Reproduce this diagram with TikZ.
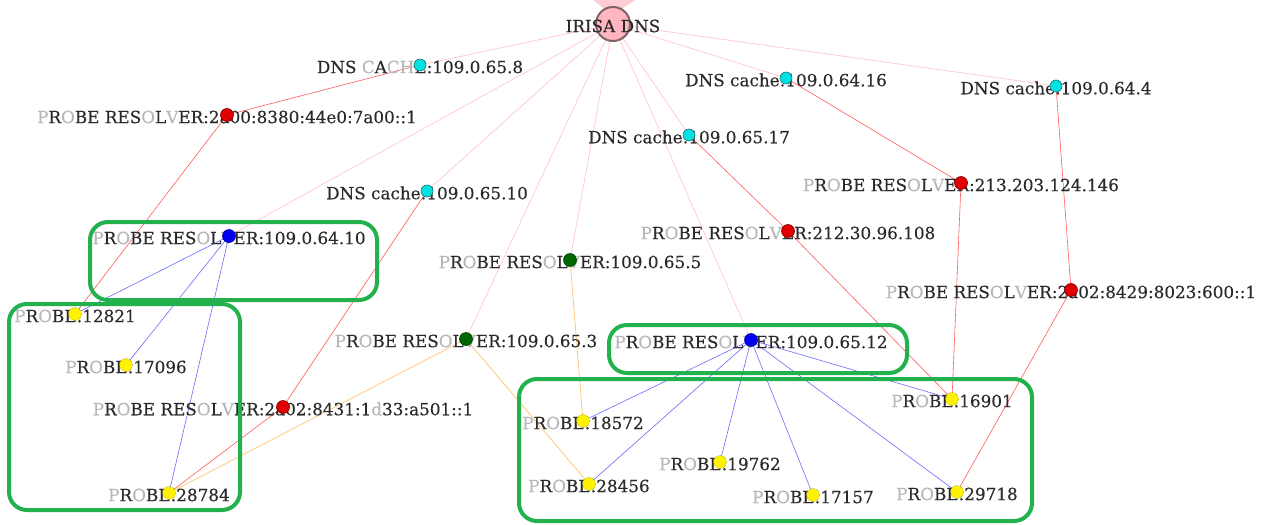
\documentclass[tikz,border=0pt]{standalone}
\usepackage{fontspec}
\setmainfont{DejaVu Serif}[FakeBold=0.3]
\definecolor{txtc}{HTML}{2A2A2A}
\definecolor{lgray}{HTML}{B8B8B8}
\definecolor{boxg}{HTML}{22B14C}
\definecolor{pinke}{HTML}{FFC6D0}
\definecolor{rede}{HTML}{FF5A5A}
\definecolor{bluee}{HTML}{6A6AFF}
\definecolor{orangee}{HTML}{FFC97E}
\definecolor{cyanf}{HTML}{00E2E2}
\definecolor{cyand}{HTML}{207070}
\definecolor{pinkf}{HTML}{FFB6C1}
\definecolor{pinkd}{HTML}{806464}
\definecolor{redf}{HTML}{E00000}
\definecolor{yellowd}{HTML}{9A9A20}
\newcommand\gl[1]{\textcolor{lgray}{#1}}
\newcommand\PRx{\gl{P}R\gl{O}BE RES\gl{O}L\gl{V}ER}
\newcommand\PBx{\gl{P}R\gl{O}BE}
\pgfdeclarelayer{bg}
\pgfsetlayers{bg,main}
\begin{document}
\begin{tikzpicture}[x=1pt,y=-1pt,
  lbl/.style={font=\fontsize{16.8}{19}\selectfont, text=txtc, inner sep=0pt, yshift=-2pt},
  dot/.style={circle, inner sep=0pt, minimum size=13pt, line width=0.6pt},
  reddot/.style={dot, fill=redf, draw=red!50!black},
  bluedot/.style={dot, fill=blue!95!black, draw=blue!60!black},
  greendot/.style={dot, fill=green!40!black, draw=green!25!black},
  cyandot/.style={dot, minimum size=12pt, fill=cyanf, draw=cyand},
  yellowdot/.style={dot, fill=yellow, draw=yellowd, densely dotted},
  pinkedge/.style={draw=pinke, line width=0.7pt},
  rededge/.style={draw=rede, line width=0.6pt},
  blueedge/.style={draw=bluee, line width=0.6pt},
  orangeedge/.style={draw=orangee, line width=0.8pt},
  grp/.style={draw=boxg, line width=4pt, rounded corners=18pt}
]
\useasboundingbox (0,0) rectangle (1267,525);
% central node
\node[circle, minimum size=34pt, inner sep=0pt, fill=pinkf, draw=pinkd, line width=2pt] (irisa) at (613,24) {};
\node[lbl] (tirisa) at (613,24) {IRISA DNS};
% labels
\node[lbl] (tc658) at (420,65) {DNS \gl{C}A\gl{CH}E:109.0.65.8};
\node[lbl] (tc6416) at (786,78) {DNS cache:109.0.64.16};
\node[lbl] (tc644) at (1056,86) {DNS cache:109.0.64.4};
\node[lbl] (tc6517) at (689,135) {DNS cache:109.0.65.17};
\node[lbl] (tc6510) at (427,191) {DNS cache:109.0.65.10};
\node[lbl] (tr2a00) at (227,115) {\PRx:2a00:8380:44e0:7a00::1};
\node[lbl] (tr213) at (961,183) {\PRx:213.203.124.146};
\node[lbl] (tr212) at (788,231) {\PRx:212.30.96.108};
\node[lbl] (tr6410) at (229,236) {\PRx:109.0.64.10};
\node[lbl] (tr655) at (570,260) {\PRx:109.0.65.5};
\node[lbl] (tr8429) at (1071,290) {\PRx:2a02:8429:8023:600::1};
\node[lbl] (tr653) at (466,339) {\PRx:109.0.65.3};
\node[lbl] (tr6512) at (751,340) {\PRx:109.0.65.12};
\node[lbl] (tr8431) at (283,407) {\PRx:2a02:8431:1\gl{d}33:a501::1};
\node[lbl] (tp12821) at (75,314) {\PBx:12821};
\node[lbl] (tp17096) at (126,365) {\PBx:17096};
\node[lbl] (tp28784) at (169,493) {\PBx:28784};
\node[lbl] (tp18572) at (583,421) {\PBx:18572};
\node[lbl] (tp16901) at (952,399) {\PBx:16901};
\node[lbl] (tp19762) at (720,462) {\PBx:19762};
\node[lbl] (tp28456) at (589,484) {\PBx:28456};
\node[lbl] (tp17157) at (813,495) {\PBx:17157};
\node[lbl] (tp29718) at (957,492) {\PBx:29718};
% dots
\node[cyandot] (c658) at (420,65) {};
\node[cyandot] (c6416) at (786,78) {};
\node[cyandot] (c644) at (1056,86) {};
\node[cyandot] (c6517) at (689,135) {};
\node[cyandot] (c6510) at (427,191) {};
\node[reddot] (r2a00) at (227,115) {};
\node[reddot] (r213) at (961,183) {};
\node[reddot] (r212) at (788,231) {};
\node[bluedot] (r6410) at (229,236) {};
\node[greendot] (r655) at (570,260) {};
\node[reddot] (r8429) at (1071,290) {};
\node[greendot] (r653) at (466,339) {};
\node[bluedot] (r6512) at (751,340) {};
\node[reddot] (r8431) at (283,407) {};
\node[yellowdot] (p12821) at (75,314) {};
\node[yellowdot] (p17096) at (126,365) {};
\node[yellowdot] (p28784) at (169,493) {};
\node[yellowdot] (p18572) at (583,421) {};
\node[yellowdot] (p16901) at (952,399) {};
\node[yellowdot] (p19762) at (720,462) {};
\node[yellowdot] (p28456) at (589,484) {};
\node[yellowdot] (p17157) at (813,495) {};
\node[yellowdot] (p29718) at (957,492) {};
% edges
\begin{pgfonlayer}{bg}
\fill[pinkf!70!white] (593,0) -- (635,0) -- (620,10) -- (606,10) -- cycle;
\foreach \t in {c658,c6416,c644,c6517,c6510,r6410,r655,r653,r6512}
  \draw[pinkedge] (irisa.center) -- (\t.center);
\draw[rededge] (c658.center) -- (r2a00.center) -- (p12821.center);
\draw[rededge] (c6510.center) -- (r8431.center) -- (p28784.center);
\draw[rededge] (c6416.center) -- (r213.center) -- (p16901.center);
\draw[rededge] (c6517.center) -- (r212.center) -- (p16901.center);
\draw[rededge] (c644.center) -- (r8429.center) -- (p29718.center);
\draw[orangeedge] (r655.center) -- (p18572.center);
\draw[orangeedge] (r653.center) -- (p28456.center);
\draw[orangeedge] (r653.center) -- (p28784.center);
\foreach \t in {p12821,p17096,p28784}
  \draw[blueedge] (r6410.center) -- (\t.center);
\foreach \t in {p18572,p28456,p19762,p17157,p29718,p16901}
  \draw[blueedge] (r6512.center) -- (\t.center);
\end{pgfonlayer}
% group boxes
\draw[grp] (90,222) rectangle (377,300);
\draw[grp] (9,304) rectangle (240,510);
\draw[grp] (609,325) rectangle (907,373);
\draw[grp] (519,379) rectangle (1032,521);
\end{tikzpicture}
\end{document}
